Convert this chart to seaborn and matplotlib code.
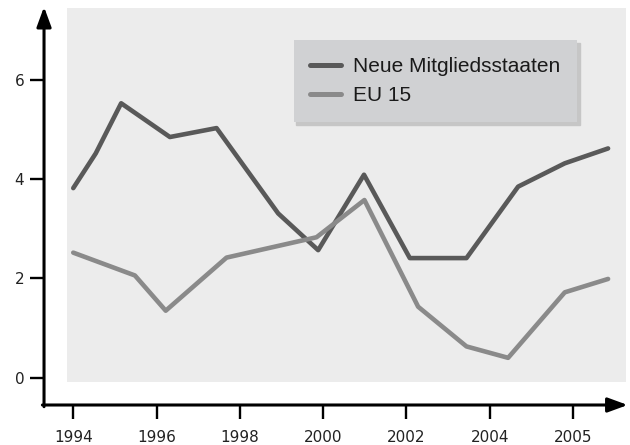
import pandas as pd
import matplotlib.pyplot as plt
import seaborn as sns

# Werte (x in Achsen-Jahren)
jahre_neu = [1994.0, 1994.54, 1995.15, 1996.32, 1997.44, 1998.92, 1999.88,
             2000.98, 2002.08, 2003.44, 2004.68, 2005.80, 2006.84]
werte_neu = [3.82, 4.52, 5.53, 4.85, 5.03, 3.31, 2.57,
             4.09, 2.41, 2.41, 3.85, 4.32, 4.62]

jahre_eu = [1994.0, 1995.48, 1996.22, 1997.68, 1999.84, 2000.99,
            2002.28, 2003.44, 2004.44, 2005.80, 2006.84]
werte_eu = [2.52, 2.06, 1.35, 2.42, 2.83, 3.58,
            1.43, 0.63, 0.40, 1.72, 1.99]

gruppen = ['Neue Mitgliedsstaaten', 'EU 15']
farben = {'Neue Mitgliedsstaaten': '#595959', 'EU 15': '#8a8a8a'}

x_ticks = [1994, 1996, 1998, 2000, 2002, 2004, 2006]
x_labels = ['1994', '1996', '1998', '2000', '2002', '2004', '2005']
y_ticks = [0, 2, 4, 6]

df = pd.concat([
    pd.DataFrame({'Jahr': jahre_neu, 'Wert': werte_neu, 'Gruppe': gruppen[0]}),
    pd.DataFrame({'Jahr': jahre_eu, 'Wert': werte_eu, 'Gruppe': gruppen[1]}),
], ignore_index=True)

sns.set_style('white')
plt.rcParams['font.family'] = ['DejaVu Sans']

fig = plt.figure(figsize=(6.3, 4.45), dpi=100)
ax = fig.add_axes([67 / 630, 1 - 382 / 445, 559 / 630, 374 / 445])
ax.set_facecolor('#ececec')

sns.lineplot(data=df, x='Jahr', y='Wert', hue='Gruppe', hue_order=gruppen,
             palette=farben, lw=3.3, estimator=None, sort=False, ax=ax)

ax.set_xlim(1993.85, 2007.27)
ax.set_ylim(-0.087, 7.45)
ax.set_xticks(x_ticks)
ax.set_xticklabels(x_labels)
ax.set_yticks(y_ticks)
ax.set_xlabel('')
ax.set_ylabel('')

for s in ax.spines.values():
    s.set_visible(False)
ax.spines['left'].set_position(('outward', 16.5))
ax.spines['bottom'].set_position(('outward', 16.5))
ax.tick_params(axis='both', length=10, width=1.7, color='black',
               labelsize=11, labelcolor='#222222', left=True, bottom=True)
ax.tick_params(axis='x', pad=8)
ax.tick_params(axis='y', pad=4.3)

# Achsen mit Pfeilspitzen
pfeil = dict(arrowstyle='-|>,head_length=0.6,head_width=0.22', color='black',
             lw=2.2, mutation_scale=20, shrinkA=0, shrinkB=0)
ax.annotate('', xy=(-0.0411, 1.003), xytext=(-0.0411, -0.066),
            xycoords='axes fraction', arrowprops=pfeil, annotation_clip=False)
ax.annotate('', xy=(1.003, -0.0615), xytext=(-0.044, -0.0615),
            xycoords='axes fraction', arrowprops=pfeil, annotation_clip=False)

leg = ax.legend(loc='upper right', bbox_to_anchor=(0.912, 0.914),
                borderaxespad=0, frameon=True, fancybox=False,
                facecolor='#d0d1d3', edgecolor='none', framealpha=1,
                shadow={'color': '#c6c6c6', 'alpha': 1},
                prop={'family': 'Liberation Sans', 'size': 15},
                handlelength=1.5, handletextpad=0.55, borderpad=0.8,
                labelspacing=0.5)
for t in leg.get_texts():
    t.set_color('#1a1a1a')
for h in leg.get_lines():
    h.set_linewidth(3.6)

fig.savefig('out.png', dpi=100)
